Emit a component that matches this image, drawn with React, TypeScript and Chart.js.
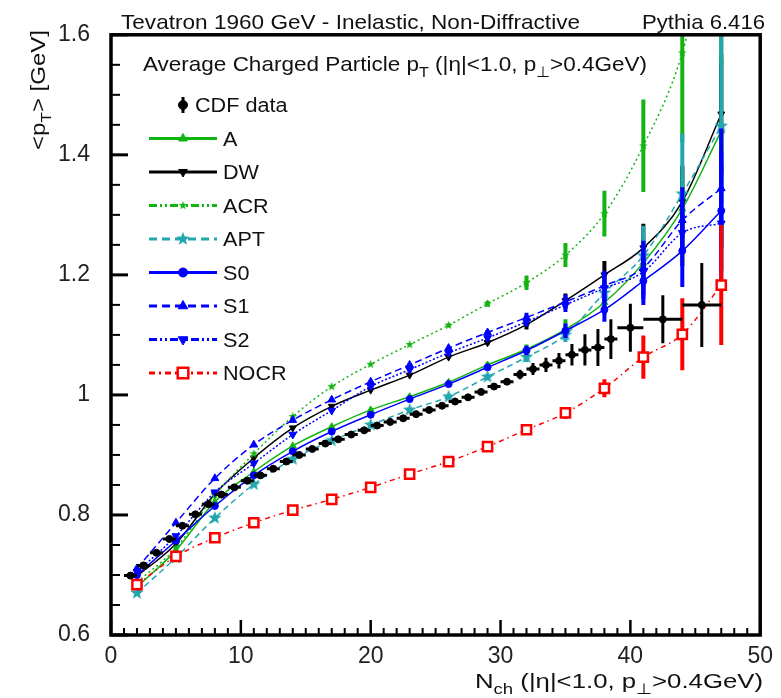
import { useEffect, useRef } from 'react';
import { Chart, registerables } from 'chart.js';
import { drawPoint } from 'chart.js/helpers';

Chart.register(...registerables);

const FONT = '"Liberation Sans", Arial, Helvetica, sans-serif';

// Monte Carlo tunes, one point every 3 in Nch
const mcNch = [2, 5, 8, 11, 14, 17, 20, 23, 26, 29, 32, 35, 38, 41, 44, 47];
const ptA = [0.680, 0.741, 0.822, 0.872, 0.915, 0.947, 0.975, 0.997, 1.021, 1.050, 1.076, 1.109, 1.154, 1.220, 1.310, 1.440];
const ptDW = [0.698, 0.752, 0.835, 0.895, 0.945, 0.981, 1.008, 1.033, 1.063, 1.087, 1.117, 1.157, 1.200, 1.245, 1.322, 1.468];
const ptACR = [0.688, 0.745, 0.833, 0.902, 0.964, 1.014, 1.051, 1.084, 1.116, 1.152, 1.187, 1.233, 1.302, 1.415, 1.570, 1.850];
const ptAPT = [0.670, 0.729, 0.795, 0.851, 0.893, 0.924, 0.950, 0.975, 0.997, 1.030, 1.063, 1.100, 1.170, 1.232, 1.335, 1.448];
const ptS0 = [0.700, 0.757, 0.815, 0.866, 0.906, 0.939, 0.967, 0.993, 1.018, 1.046, 1.074, 1.107, 1.142, 1.190, 1.240, 1.307];
const ptS1 = [0.711, 0.787, 0.861, 0.917, 0.958, 0.992, 1.022, 1.050, 1.078, 1.104, 1.129, 1.155, 1.182, 1.212, 1.291, 1.344];
const ptS2 = [0.705, 0.765, 0.838, 0.886, 0.934, 0.974, 1.014, 1.042, 1.070, 1.095, 1.122, 1.150, 1.178, 1.205, 1.270, 1.286];
const ptNOCR = [0.684, 0.731, 0.762, 0.787, 0.808, 0.826, 0.846, 0.868, 0.889, 0.914, 0.942, 0.970, 1.011, 1.063, 1.101, 1.183];

const errA = [0, 0, 0, 0, 0, 0, 0, 0, 0, 0.004, 0.008, 0.017, 0.02, 0.04, 0.07, 0.12];
const errDW = [0, 0, 0, 0, 0, 0, 0, 0, 0, 0.004, 0.008, 0.012, 0.023, 0.04, 0.06, 0.1];
const errACR = [0, 0, 0, 0, 0, 0, 0, 0, 0.003, 0.005, 0.012, 0.02, 0.038, 0.077, 0.15, 0.3];
const errAPT = [0, 0, 0, 0, 0, 0, 0, 0, 0, 0.004, 0.008, 0.012, 0.025, 0.05, 0.1, 0.2];
const errS0 = [0, 0, 0, 0, 0, 0, 0, 0, 0, 0.004, 0.008, 0.012, 0.02, 0.04, 0.06, 0.1];
const errS1 = [0, 0, 0, 0, 0, 0, 0, 0, 0, 0.004, 0.008, 0.012, 0.025, 0.045, 0.055, 0.1];
const errS2 = [0, 0, 0, 0, 0, 0, 0, 0, 0, 0.004, 0.008, 0.012, 0.025, 0.045, 0.055, 0.1];
const errNOCR = [0, 0, 0, 0, 0, 0, 0, 0, 0, 0.004, 0.006, 0.01, 0.015, 0.036, 0.06, 0.1];

// CDF data
const cdfNch = [1.5, 2.5, 3.5, 4.5, 5.5, 6.5, 7.5, 8.5, 9.5, 10.5, 11.5, 12.5, 13.5, 14.5, 15.5, 16.5, 17.5, 18.5, 19.5, 20.5,
  21.5, 22.5, 23.5, 24.5, 25.5, 26.5, 27.5, 28.5, 29.5, 30.5, 31.5, 32.5, 33.5, 34.5, 35.5, 36.5, 37.5, 38.5, 40, 42.5, 45.5];
const cdfPt = [0.699, 0.716, 0.737, 0.760, 0.782, 0.801, 0.818, 0.834, 0.846, 0.857, 0.866, 0.877, 0.889, 0.900, 0.910, 0.919,
  0.926, 0.934, 0.941, 0.949, 0.955, 0.961, 0.968, 0.975, 0.982, 0.989, 0.996, 1.005, 1.014, 1.022, 1.034, 1.043, 1.050,
  1.057, 1.067, 1.075, 1.079, 1.093, 1.112, 1.126, 1.150];
const cdfErrX = [0.5, 0.5, 0.5, 0.5, 0.5, 0.5, 0.5, 0.5, 0.5, 0.5, 0.5, 0.5, 0.5, 0.5, 0.5, 0.5, 0.5, 0.5, 0.5, 0.5,
  0.5, 0.5, 0.5, 0.5, 0.5, 0.5, 0.5, 0.5, 0.5, 0.5, 0.5, 0.5, 0.5, 0.5, 0.5, 0.5, 0.5, 0.5, 1, 1.5, 1.5];
const cdfErrY = [0.004, 0.004, 0.004, 0.004, 0.004, 0.004, 0.004, 0.004, 0.004, 0.004, 0.004, 0.004, 0.004, 0.004, 0.004,
  0.004, 0.004, 0.004, 0.004, 0.004, 0.004, 0.004, 0.004, 0.004, 0.004, 0.004, 0.004, 0.004, 0.004, 0.005, 0.008, 0.01,
  0.012, 0.013, 0.018, 0.026, 0.031, 0.033, 0.04, 0.04, 0.07];

const GREEN = '#12b412';
const CYAN = '#22a6b0';
const BLUE = '#0000ff';
const RED = '#ff0000';

type Part = [string, boolean];

// text with subscripts; squeezed or stretched sideways to fill `width` when given
const drawRich = (ctx: CanvasRenderingContext2D, parts: Part[], x: number, y: number, size: number,
  align: 'left' | 'right', width?: number) => {
  const subSize = size * 0.72;
  let total = 0;
  parts.forEach(([t, sub]) => {
    ctx.font = `${sub ? subSize : size}px ${FONT}`;
    total += ctx.measureText(t).width;
  });
  const sx = width ? width / total : 1.08;
  ctx.save();
  ctx.translate(align === 'right' ? x - total * sx : x, y);
  ctx.scale(sx, 1);
  ctx.textAlign = 'left';
  ctx.textBaseline = 'alphabetic';
  let cx = 0;
  parts.forEach(([t, sub]) => {
    ctx.font = `${sub ? subSize : size}px ${FONT}`;
    ctx.fillText(t, cx, sub ? size * 0.3 : 0);
    cx += ctx.measureText(t).width;
  });
  ctx.restore();
};

const starImage = (color: string, r: number) => {
  const c = document.createElement('canvas');
  const s = Math.ceil(r * 2 + 2);
  c.width = s;
  c.height = s;
  const g = c.getContext('2d')!;
  g.fillStyle = color;
  g.beginPath();
  for (let i = 0; i < 10; i++) {
    const a = -Math.PI / 2 + (i * Math.PI) / 5;
    const rr = i % 2 === 0 ? r : r * 0.42;
    g.lineTo(s / 2 + rr * Math.cos(a), s / 2 + rr * Math.sin(a));
  }
  g.closePath();
  g.fill();
  return c;
};

// error bars drawn under each dataset
const errorBars = {
  id: 'errorBars',
  beforeDatasetDraw(chart: any, args: any) {
    const ds = chart.data.datasets[args.index];
    if (!ds.errY) return;
    const { ctx, chartArea, scales } = chart;
    ctx.save();
    ctx.beginPath();
    ctx.rect(chartArea.left, chartArea.top, chartArea.right - chartArea.left, chartArea.bottom - chartArea.top);
    ctx.clip();
    ctx.strokeStyle = ds.borderColor;
    ctx.lineWidth = ds.errWidth;
    ctx.setLineDash([]);
    ds.data.forEach((p: any, i: number) => {
      const px = scales.x.getPixelForValue(p.x);
      const py = scales.y.getPixelForValue(p.y);
      const ey = ds.errY[i];
      if (ey > 0) {
        ctx.beginPath();
        ctx.moveTo(px, scales.y.getPixelForValue(p.y - ey));
        ctx.lineTo(px, scales.y.getPixelForValue(p.y + ey));
        ctx.stroke();
      }
      if (ds.errX && ds.errX[i] > 0) {
        ctx.beginPath();
        ctx.moveTo(scales.x.getPixelForValue(p.x - ds.errX[i]), py);
        ctx.lineTo(scales.x.getPixelForValue(p.x + ds.errX[i]), py);
        ctx.stroke();
      }
    });
    ctx.restore();
  },
};

// frame, inner ticks, titles and legend in ROOT style
const decorations = {
  id: 'decorations',
  afterDraw(chart: any) {
    const { ctx, chartArea, scales } = chart;
    const { left, right, top, bottom } = chartArea;
    ctx.save();
    ctx.setLineDash([]);
    ctx.strokeStyle = '#000';
    ctx.lineCap = 'butt';

    for (let i = 0; i <= 20; i++) {
      const y = scales.y.getPixelForValue(0.6 + i * 0.05);
      const major = i % 4 === 0;
      ctx.lineWidth = major ? 3 : 2;
      ctx.beginPath();
      ctx.moveTo(left, y);
      ctx.lineTo(left + (major ? 17 : 9), y);
      ctx.stroke();
    }
    for (let n = 0; n <= 50; n++) {
      const x = scales.x.getPixelForValue(n);
      const major = n % 10 === 0;
      ctx.lineWidth = major ? 2.5 : 2;
      ctx.beginPath();
      ctx.moveTo(x, bottom);
      ctx.lineTo(x, bottom - (major ? 15 : 7));
      ctx.stroke();
    }
    ctx.lineWidth = 3.5;
    ctx.strokeRect(left, top, right - left, bottom - top);

    ctx.fillStyle = '#111';
    drawRich(ctx, [['Tevatron 1960 GeV - Inelastic, Non-Diffractive', false]], 121, 29, 21, 'left', 459);
    drawRich(ctx, [['Pythia 6.416', false]], 765, 29, 21, 'right', 123);
    drawRich(ctx, [['Average Charged Particle p', false], ['T', true], [' (|η|<1.0, p', false], ['⊥', true], ['>0.4GeV)', false]],
      143, 71, 21, 'left', 504);
    drawRich(ctx, [['N', false], ['ch', true], [' (|η|<1.0, p', false], ['⊥', true], ['>0.4GeV)', false]],
      763, 688, 21, 'right', 288);

    ctx.save();
    ctx.translate(45, 30);
    ctx.rotate(-Math.PI / 2);
    drawRich(ctx, [['<p', false], ['T', true], ['> [GeV]', false]], 0, 0, 21, 'right', 120);
    ctx.restore();

    // legend
    chart.data.datasets.forEach((ds: any, i: number) => {
      const y = 105 + i * 33.5;
      const mx = 183;
      ctx.strokeStyle = ds.borderColor;
      ctx.lineWidth = 3;
      if (ds.showLine !== false) {
        ctx.setLineDash(ds.legendDash);
        ctx.beginPath();
        ctx.moveTo(149, y);
        ctx.lineTo(217, y);
        ctx.stroke();
        ctx.setLineDash([]);
      } else {
        ctx.beginPath();
        ctx.moveTo(mx, y - 8);
        ctx.lineTo(mx, y + 8);
        ctx.stroke();
      }
      ctx.fillStyle = ds.pointBackgroundColor;
      ctx.strokeStyle = ds.pointBorderColor;
      ctx.lineWidth = ds.pointBorderWidth;
      drawPoint(ctx, {
        pointStyle: ds.pointStyle,
        rotation: ds.pointRotation,
        radius: ds.pointRadius + 1,
        borderWidth: ds.pointBorderWidth,
      }, mx, y);
      ctx.fillStyle = '#111';
      drawRich(ctx, [[ds.label, false]], ds.showLine === false ? 195 : 223, y + 7, 20);
    });
    ctx.restore();
  },
};

const mcSet = (label: string, xs: number[], ys: number[], errs: number[], color: string, dash: number[],
  legendDash: number[], pointStyle: any, radius: number, rotation: number, order: number) => ({
  label,
  data: xs.map((x, i) => ({ x, y: ys[i] })),
  errY: errs,
  errWidth: 4,
  borderColor: color,
  borderWidth: 1.5,
  borderDash: dash,
  legendDash,
  pointStyle,
  pointRadius: radius,
  pointRotation: rotation,
  pointBackgroundColor: color,
  pointBorderColor: color,
  pointBorderWidth: 1,
  tension: 0.4,
  cubicInterpolationMode: 'monotone',
  fill: false,
  order,
});

export default function App() {
  const canvasRef = useRef<HTMLCanvasElement | null>(null);

  useEffect(() => {
    document.body.style.margin = '0';
    if (!canvasRef.current) return;
    const ctx = canvasRef.current.getContext('2d');
    if (!ctx) return;

    const cdf = {
      label: 'CDF data',
      data: cdfNch.map((x, i) => ({ x, y: cdfPt[i] })),
      errY: cdfErrY,
      errX: cdfErrX,
      errWidth: 3,
      showLine: false,
      borderColor: '#000',
      pointStyle: 'circle',
      pointRadius: 3.5,
      pointRotation: 0,
      pointBackgroundColor: '#000',
      pointBorderColor: '#000',
      pointBorderWidth: 1,
      order: 0,
    };

    const nocr: any = mcSet('NOCR', mcNch, ptNOCR, errNOCR, RED, [5, 4, 1.5, 4], [6, 4, 2, 4], 'rect', 6.5, 0, 1);
    nocr.pointBackgroundColor = '#fff';
    nocr.pointBorderWidth = 2.5;

    const chart = new Chart(ctx, {
      type: 'line',
      data: {
        datasets: [
          cdf,
          mcSet('A', mcNch, ptA, errA, GREEN, [], [], 'triangle', 4, 0, 8),
          mcSet('DW', mcNch, ptDW, errDW, '#000', [], [], 'triangle', 4, 180, 7),
          mcSet('ACR', mcNch, ptACR, errACR, GREEN, [2, 3], [8, 3, 2, 3, 2, 3], starImage(GREEN, 4.5), 4, 0, 6),
          mcSet('APT', mcNch, ptAPT, errAPT, CYAN, [6, 4], [8, 5], starImage(CYAN, 7), 6, 0, 5),
          mcSet('S0', mcNch, ptS0, errS0, BLUE, [], [], 'circle', 3.5, 0, 4),
          mcSet('S1', mcNch, ptS1, errS1, BLUE, [7, 4], [8, 5], 'triangle', 4.5, 0, 3),
          mcSet('S2', mcNch, ptS2, errS2, BLUE, [2, 2], [8, 3, 2, 3, 2, 3], 'triangle', 4.5, 180, 2),
          nocr,
        ] as any,
      },
      options: {
        animation: false,
        responsive: true,
        maintainAspectRatio: false,
        layout: { padding: { left: 0, top: 30, right: 15, bottom: 0 } },
        plugins: {
          legend: { display: false },
          tooltip: { enabled: false },
        },
        scales: {
          x: {
            type: 'linear',
            min: 0,
            max: 50,
            grid: { display: false, drawTicks: false },
            border: { display: false },
            ticks: { stepSize: 10, padding: 8, maxRotation: 0, color: '#222', font: { family: FONT, size: 23 } },
            afterFit: (s: any) => { s.height = 63; },
          },
          y: {
            type: 'linear',
            min: 0.6,
            max: 1.6,
            grid: { display: false, drawTicks: false },
            border: { display: false },
            ticks: {
              stepSize: 0.2,
              padding: 21,
              color: '#222',
              font: { family: FONT, size: 23 },
              callback: (v: any) => String(Number(Number(v).toFixed(2))),
            },
            afterFit: (s: any) => { s.width = 111; },
          },
        },
      } as any,
      plugins: [errorBars, decorations],
    });

    return () => {
      chart.destroy();
    };
  }, []);

  return (
    <div style={{ width: 781, height: 698, position: 'relative', background: '#fff' }}>
      <canvas ref={canvasRef} />
    </div>
  );
}
